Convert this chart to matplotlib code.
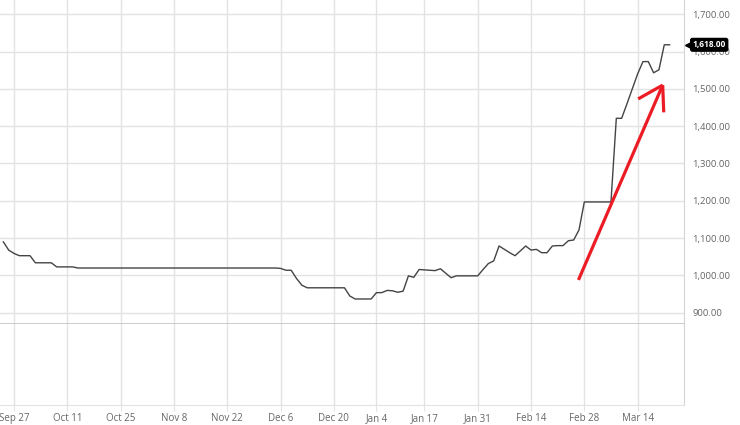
import matplotlib.pyplot as plt
import matplotlib.transforms as mtransforms

plt.rcParams['font.family'] = ['Open Sans', 'DejaVu Sans']

# trading-day index (0 = Sep 27) and closing price
day = list(range(-2, 124))
price = [
    1090, 1068, 1059, 1053, 1053, 1053, 1034, 1034, 1034, 1034,
    1023, 1023, 1023, 1023, 1020, 1020, 1020, 1020, 1020, 1020,
    1020, 1020, 1020, 1020, 1020, 1020, 1020, 1020, 1020, 1020,
    1020, 1020, 1020, 1020, 1020, 1020, 1020, 1020, 1020, 1020,
    1020, 1020, 1020, 1020, 1020, 1020, 1020, 1020, 1020, 1020,
    1020, 1020, 1019, 1014, 1014, 992, 974, 967, 967, 967,
    967, 967, 967, 967, 967, 945, 937, 937, 937, 937,
    954, 954, 960, 959, 955, 958, 999, 995, 1016, 1015,
    1014, 1013, 1018, 1006, 994, 999, 999, 999, 999, 999,
    1016, 1032, 1039, 1079, 1070, 1061, 1053, 1066, 1079, 1068,
    1070, 1061, 1061, 1079, 1080, 1080, 1093, 1095, 1122, 1197,
    1197, 1197, 1197, 1197, 1197, 1421, 1421, 1460, 1500, 1540,
    1573, 1573, 1543, 1551, 1618, 1618,
]

tick_days = [0, 10, 20, 30, 40, 50, 60, 68, 77, 87, 97, 107, 117]
tick_labels = ['Sep 27', 'Oct 11', 'Oct 25', 'Nov 8', 'Nov 22', 'Dec 6', 'Dec 20',
               'Jan 4', 'Jan 17', 'Jan 31', 'Feb 14', 'Feb 28', 'Mar 14']
y_ticks = [900, 1000, 1100, 1200, 1300, 1400, 1500, 1600, 1700]

# red hand-drawn arrow (day, price)
arrow_x = [105.9, 121.7]
arrow_y = [988, 1510]
head_left_x = [117.1, 121.7]
head_left_y = [1473, 1510]
head_right_x = [121.7, 121.9]
head_right_y = [1510, 1437]

W, H = 740, 425
fig = plt.figure(figsize=(W / 100, H / 100), dpi=100)
ax = fig.add_axes([0, (H - 324) / H, 684 / W, 324 / H])
ax2 = fig.add_axes([0, (H - 405) / H, 684 / W, 81 / H], sharex=ax)

grid_c = '#e3e3e3'
txt_c = '#666666'

ax.plot(day, price, color='#444444', lw=1.0)
ax.set_xlim(-2.63, 125.7)
ax.set_ylim(870, 1738)

ax.set_yticks(y_ticks)
ax.set_yticklabels([f'{v:,.2f}' for v in y_ticks])
ax.yaxis.tick_right()
ax.tick_params(axis='y', length=0, pad=6, labelsize=6.8, labelcolor=txt_c)
ax.tick_params(axis='x', length=0, labelbottom=False)
ax.set_xticks(tick_days)
ax.grid(True, color=grid_c, lw=1)
ax.set_axisbelow(True)

for a in (ax, ax2):
    a.spines['left'].set_visible(False)
    a.spines['top'].set_visible(False)
    a.spines['right'].set_color('#d5d5d5')
ax.spines['bottom'].set_color('#c4c4c4')
ax.spines['bottom'].set_linewidth(1.2)
ax2.spines['bottom'].set_color(grid_c)

ax2.set_yticks([])
ax2.set_xticks(tick_days)
ax2.set_xticklabels(tick_labels)
ax2.tick_params(axis='x', length=4, color=grid_c, labelsize=7, labelcolor=txt_c, pad=1.5)
ax2.grid(True, axis='x', color=grid_c, lw=1)

# red annotation arrow
red = '#ec1c24'
for xs, ys in ((arrow_x, arrow_y), (head_left_x, head_left_y), (head_right_x, head_right_y)):
    ax.plot(xs, ys, color=red, lw=2.3, solid_capstyle='butt', clip_on=False)

# last price badge
trans = mtransforms.blended_transform_factory(ax.transAxes, ax.transData)
ax.plot([1.0 + 4 / 684], [price[-1]], marker='<', ms=5, color='black',
        transform=trans, clip_on=False)
ax.text(1.0 + 8.5 / 684, price[-1], f'{price[-1]:,.2f}', transform=trans,
        ha='left', va='center', fontsize=6.0, fontweight='bold', color='white',
        bbox=dict(boxstyle='round,pad=0.22', fc='black', ec='black'))

fig.savefig('out.png', dpi=100)
